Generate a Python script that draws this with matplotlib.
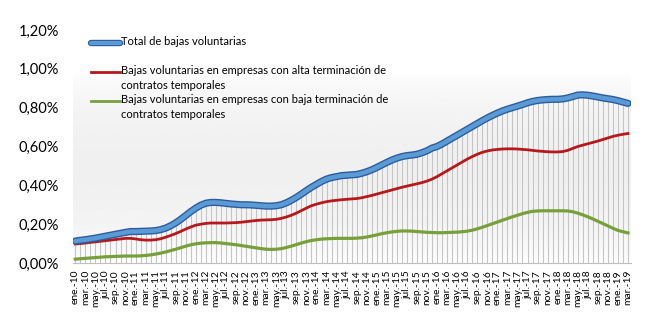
import numpy as np
import matplotlib
matplotlib.use('agg')
from matplotlib import pyplot as plt
from matplotlib import patheffects as pe

plt.rcParams['font.family'] = ['Lato', 'DejaVu Sans']

meses = ['ene.', 'feb.', 'mar.', 'abr.', 'may.', 'jun.', 'jul.', 'ago.', 'sep.', 'oct.', 'nov.', 'dic.']
periodos = [m + '-' + str(a) for a in range(10, 20) for m in meses][:111]

# total de bajas voluntarias (%)
total = [0.113, 0.117, 0.120, 0.124, 0.128, 0.133, 0.138, 0.143, 0.148, 0.153, 0.158, 0.162,
         0.162, 0.163, 0.164, 0.165, 0.167, 0.172, 0.180, 0.192, 0.207, 0.225, 0.245, 0.265,
         0.283, 0.298, 0.308, 0.312, 0.312, 0.310, 0.307, 0.304, 0.302, 0.300, 0.300, 0.299,
         0.297, 0.295, 0.293, 0.293, 0.295, 0.300, 0.310, 0.323, 0.338, 0.355, 0.373, 0.390,
         0.405, 0.420, 0.432, 0.440, 0.445, 0.450, 0.452, 0.454, 0.456, 0.462, 0.470, 0.480,
         0.492, 0.505, 0.518, 0.530, 0.540, 0.548, 0.553, 0.556, 0.560, 0.568, 0.578, 0.592,
         0.600, 0.613, 0.628, 0.643, 0.658, 0.673, 0.688, 0.703, 0.718, 0.733, 0.747, 0.760,
         0.772, 0.783, 0.792, 0.800, 0.808, 0.816, 0.825, 0.832, 0.837, 0.840, 0.842, 0.843,
         0.843, 0.845, 0.850, 0.857, 0.865, 0.866, 0.864, 0.860, 0.855, 0.850, 0.846, 0.842,
         0.836, 0.829, 0.822]

# empresas con alta terminacion de contratos temporales
alta = [0.098, 0.100, 0.103, 0.106, 0.109, 0.112, 0.115, 0.118, 0.121, 0.124, 0.127, 0.127,
        0.124, 0.120, 0.118, 0.118, 0.120, 0.125, 0.133, 0.142, 0.152, 0.163, 0.175, 0.186,
        0.195, 0.200, 0.204, 0.206, 0.206, 0.206, 0.206, 0.207, 0.208, 0.210, 0.213, 0.216,
        0.219, 0.221, 0.222, 0.223, 0.225, 0.230, 0.237, 0.246, 0.257, 0.270, 0.283, 0.295,
        0.303, 0.310, 0.316, 0.320, 0.323, 0.326, 0.328, 0.330, 0.332, 0.336, 0.342, 0.348,
        0.355, 0.362, 0.369, 0.376, 0.383, 0.390, 0.396, 0.402, 0.408, 0.414, 0.422, 0.432,
        0.445, 0.460, 0.475, 0.490, 0.505, 0.520, 0.535, 0.548, 0.560, 0.570, 0.577, 0.582,
        0.585, 0.587, 0.588, 0.588, 0.587, 0.585, 0.583, 0.580, 0.577, 0.575, 0.573, 0.572,
        0.572, 0.574, 0.580, 0.590, 0.600, 0.607, 0.614, 0.621, 0.628, 0.636, 0.644, 0.652,
        0.658, 0.663, 0.667]

# empresas con baja terminacion de contratos temporales
baja = [0.020, 0.022, 0.024, 0.026, 0.028, 0.030, 0.032, 0.033, 0.034, 0.035, 0.036, 0.036,
        0.036, 0.037, 0.039, 0.042, 0.046, 0.051, 0.057, 0.064, 0.071, 0.079, 0.087, 0.094,
        0.099, 0.102, 0.104, 0.105, 0.105, 0.103, 0.100, 0.097, 0.094, 0.090, 0.086, 0.082,
        0.078, 0.074, 0.071, 0.070, 0.071, 0.074, 0.080, 0.087, 0.095, 0.103, 0.110, 0.116,
        0.120, 0.123, 0.125, 0.126, 0.127, 0.127, 0.127, 0.127, 0.128, 0.130, 0.134, 0.139,
        0.145, 0.151, 0.156, 0.160, 0.163, 0.165, 0.165, 0.164, 0.162, 0.160, 0.158, 0.157,
        0.156, 0.156, 0.157, 0.158, 0.159, 0.161, 0.164, 0.169, 0.176, 0.184, 0.193, 0.202,
        0.211, 0.220, 0.229, 0.238, 0.246, 0.254, 0.261, 0.266, 0.268, 0.269, 0.269, 0.269,
        0.269, 0.269, 0.268, 0.264, 0.257, 0.248, 0.238, 0.227, 0.215, 0.203, 0.191, 0.179,
        0.168, 0.161, 0.155]

etiquetas = ['Total de bajas voluntarias',
             'Bajas voluntarias en empresas con alta terminación de\ncontratos temporales',
             'Bajas voluntarias en empresas con baja terminación de\ncontratos temporales']
colores = ['#5B9BD5', '#B5191C', '#77A03A']

x = np.arange(len(total))

fig = plt.figure(figsize=(6.5, 3.31), dpi=100)
ax = fig.add_axes([0.112, 0.2054, 0.858, 0.704])
ax.set_xlim(-0.5, len(total) - 0.5)
ax.set_ylim(0, 1.2)

# faint grey panel behind the series
grad = np.linspace(0, 1, 100).reshape(-1, 1)
grad = 1 - 0.06 * np.sin(np.pi * grad) ** 0.6
ax.imshow(grad, cmap='gray', vmin=0, vmax=1, aspect='auto', origin='lower',
          extent=(-0.5, len(total) - 0.5, 0, 0.98), zorder=0)

ax.vlines(x, 0, total, color='#C4C4C4', linewidth=0.75, zorder=1)
ax.plot(x, baja, color=colores[2], linewidth=2.3, zorder=3)
ax.plot(x, alta, color=colores[1], linewidth=2.0, zorder=3)
ax.plot(x, total, color=colores[0], linewidth=3.2, zorder=4,
        path_effects=[pe.Stroke(linewidth=5.2, foreground='#2C5C9E'), pe.Normal()],
        solid_capstyle='round')

ax.set_yticks(np.arange(0, 1.21, 0.2))
ax.set_yticklabels([('%.2f%%' % v).replace('.', ',') for v in np.arange(0, 1.21, 0.2)], fontsize=10.5)
ax.set_xticks(x[::2])
ax.set_xticklabels(periodos[::2], rotation=90, fontsize=7.4)
ax.tick_params(axis='both', length=0)
ax.tick_params(axis='y', pad=10)
ax.tick_params(axis='x', pad=5)
for s in ['top', 'right', 'left']:
    ax.spines[s].set_visible(False)
ax.spines['bottom'].set_color('#BFBFBF')

# legend drawn by hand so the markers sit on the first text line
leg_y = [1.135, 0.985, 0.835]
for yy, lab, col in zip(leg_y, etiquetas, colores):
    if col == colores[0]:
        kw = dict(linewidth=3.0, solid_capstyle='round',
                  path_effects=[pe.Stroke(linewidth=4.6, foreground='#2C5C9E'), pe.Normal()])
    else:
        kw = dict(linewidth=2.0)
    ax.plot([3.2, 8.8], [yy, yy], color=col, clip_on=False, zorder=5, **kw)
    ax.text(9.0, yy + 0.034, lab, fontsize=8.0, va='top', ha='left', linespacing=1.4, zorder=5)

fig.savefig('out.png', dpi=100, facecolor='white')
